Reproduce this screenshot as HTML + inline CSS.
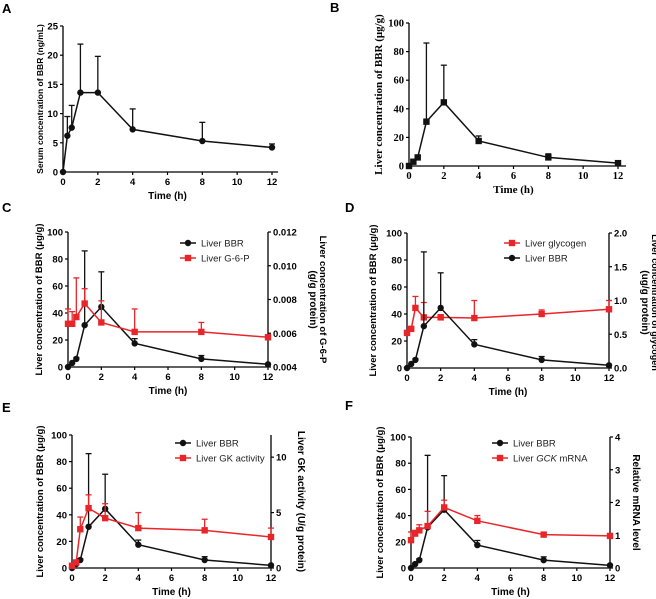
<!DOCTYPE html>
<html><head><meta charset="utf-8"><style>
body{margin:0;background:#fff;width:656px;height:599px;overflow:hidden}
svg{display:block;font-family:"Liberation Sans",Arial,sans-serif}
</style></head><body>
<svg id="fig" width="656" height="599" viewBox="0 0 656 599"></svg>
<script>
const times=[0,0.25,0.5,1,2,4,8,12];
const xTicks=[0,2,4,6,8,10,12];
const serumBBR=[0,6.2,7.6,13.6,13.6,7.3,5.3,4.2];
const serumErr=[0,3.3,3.8,8.3,6.2,3.5,3.2,0.6];
const liverBBR=[0,3,6,31,44.5,17.5,6,2];
const liverErr=[0,0,1,55,26,3.5,2.5,0.5];
const g6p=[0.00656,0.00656,0.00696,0.00776,0.00664,0.00608,0.00608,0.00576];
const g6pErr=[0.00088,0.00072,0.00232,0.00088,0.00128,0.00136,0.00056,0.00016];
const glycogen=[0.52,0.58,0.89,0.75,0.75,0.74,0.80,0.87];
const glycogenErr=[0,0.02,0.17,0.22,0.04,0.26,0.06,0.13];
const gk=[0.2,0.5,3.5,5.4,4.5,3.6,3.4,2.8];
const gkErr=[0,0.1,1.1,1.2,1.3,1.4,1.0,0.8];
const gck=[0.85,1.05,1.15,1.28,1.85,1.44,1.02,0.98];
const gckErr=[0.25,0.1,0.17,0.45,0.22,0.16,0.03,0.02];
const ticksA=[0,5,10,15,20,25];
const ticksLeft=[0,20,40,60,80,100];
const ticksC=[0.004,0.006,0.008,0.010,0.012];
const ticksD=[0,0.5,1.0,1.5,2.0];
const ticksE=[0,5,10];
const ticksF=[0,1,2,3,4];
const NS='http://www.w3.org/2000/svg';
const svg=document.getElementById('fig');
function el(tag,attrs,parent,text){const e=document.createElementNS(NS,tag);for(const k in attrs)e.setAttribute(k,attrs[k]);if(text!==undefined)e.textContent=text;(parent||svg).appendChild(e);return e;}
function panel(p){
  const g=el('g',{});
  
  
  const sx=t=>p.x0+(p.x1-p.x0)*t/12;
  const sy=v=>p.y0+(p.y1-p.y0)*v/p.ymax;
  const lt=el('text',{x:p.lx,y:p.ly,'font-size':13,'font-weight':'bold'},g,p.letter);
  
  
  const ff=p.serif?'"Liberation Serif",serif':'"Liberation Sans",sans-serif';
  const xa=el('g',{},g);
  
  
  el('line',{x1:p.x0,y1:p.y0,x2:p.x1+(p.extend||0),y2:p.y0,stroke:'#000','stroke-width':1.3},xa);
  xTicks.forEach(t=>{el('line',{x1:sx(t),y1:p.y0,x2:sx(t),y2:p.y0+3,stroke:'#000','stroke-width':1.2},xa);
    el('text',{x:sx(t),y:p.y0+13,'font-size':p.fs||9.5,'font-weight':'bold','text-anchor':'middle','font-family':ff},xa,t);});
  const xt=el('text',{x:(p.x0+p.x1)/2,y:p.y0+27,'font-size':p.xfs||10,'font-weight':'bold','text-anchor':'middle','font-family':ff},g,'Time (h)');
  
  
  const ya=el('g',{},g);
  
  
  el('line',{x1:p.x0,y1:p.y0,x2:p.x0,y2:p.y1,stroke:'#000','stroke-width':1.3},ya);
  p.ticks.forEach(v=>{el('line',{x1:p.x0-3,y1:sy(v),x2:p.x0,y2:sy(v),stroke:'#000','stroke-width':1.2},ya);
    el('text',{x:p.x0-5,y:sy(v)+3.5,'font-size':p.fs||9.5,'font-weight':'bold','text-anchor':'end','font-family':ff},ya,v);});
  const tx=p.x0-p.tdx, ty=(p.y0+p.y1)/2;
  const yt=el('text',{x:tx,y:ty,'font-size':p.tfs||9.5,'font-weight':'bold','text-anchor':'middle','font-family':ff,transform:`rotate(-90 ${tx} ${ty})`},g,p.ytitle);
  
  
  function series(vals,errs,sy2,color,shape,name){
    const s=el('g',{},g);
    
    
    vals.forEach((v,i)=>{if(errs[i]>0){const x=sx(times[i]);el('line',{x1:x,y1:sy2(v),x2:x,y2:sy2(v+errs[i]),stroke:color,'stroke-width':1.3},s);el('line',{x1:x-3,y1:sy2(v+errs[i]),x2:x+3,y2:sy2(v+errs[i]),stroke:color,'stroke-width':1.3},s);}});
    el('polyline',{points:vals.map((v,i)=>sx(times[i])+','+sy2(v)).join(' '),fill:'none',stroke:color,'stroke-width':1.5},s);
    vals.forEach((v,i)=>{const x=sx(times[i]),y=sy2(v);
      if(shape==='c')el('circle',{cx:x,cy:y,r:3.2,fill:color},s);else el('rect',{x:x-3.2,y:y-3.2,width:6.4,height:6.4,fill:color},s);});
  }
  if(p.right){
    const r=p.right;
    const sy2=v=>p.y0+(p.y1-p.y0)*(v-r.min)/(r.max-r.min);
    const ra=el('g',{},g);
    
    
    el('line',{x1:p.x1,y1:p.y0,x2:p.x1,y2:p.y1,stroke:'#000','stroke-width':1.3},ra);
    r.ticks.forEach(v=>{el('line',{x1:p.x1,y1:sy2(v),x2:p.x1+3,y2:sy2(v),stroke:'#000','stroke-width':1.2},ra);
      el('text',{x:p.x1+5,y:sy2(v)+3.5,'font-size':9.5,'font-weight':'bold','font-family':ff},ra,r.labels?r.labels(v):v);});
    r.titles.forEach((t,k)=>{const x=p.x1+r.tx[k];const yy=ty+(r.ty||0);
      const rt=el('text',{x:x,y:yy,'font-size':(r.tfs&&r.tfs[k])||10,'font-weight':'bold','text-anchor':'middle',transform:`rotate(90 ${x} ${yy})`},g,t);
      
      });
    if(r.first){series(r.vals,r.errs,sy2,'#e8262a','s','series-'+r.key);series(p.vals,p.errs,sy,'#111','c','series-liver-bbr');}
    else{series(p.vals,p.errs,sy,'#111','c','series-liver-bbr');series(r.vals,r.errs,sy2,'#e8262a','s','series-'+r.key);}
    r.legend.forEach((L,k)=>{const lg=el('g',{},g);
      
      
      const y=p.legY+k*15;
      el('line',{x1:p.legX,y1:y,x2:p.legX+16,y2:y,stroke:L.c,'stroke-width':1.5},lg);
      if(L.s==='c')el('circle',{cx:p.legX+8,cy:y,r:3.2,fill:L.c},lg);else el('rect',{x:p.legX+4.8,y:y-3.2,width:6.4,height:6.4,fill:L.c},lg);
      const t=el('text',{x:p.legX+21,y:y+3.5,'font-size':9.5,fill:'#222'},lg);
      t.innerHTML=L.t;});
  } else series(p.vals,p.errs,sy,'#111',p.shape||'c',p.sname);
}
panel({letter:'A',lx:2,ly:13,x0:63,x1:272,y0:172,y1:26,ymax:25,ticks:ticksA,vals:serumBBR,errs:serumErr,tdx:20,tfs:8.5,ytitle:'Serum concentration of BBR (ng/mL)',sname:'series-serum-bbr',extend:6});
panel({letter:'B',lx:330,ly:12,x0:409,x1:618,y0:166,y1:23,ymax:100,ticks:ticksLeft,vals:liverBBR,errs:liverErr,tdx:27,tfs:11,ytitle:'Liver concentration of BBR (μg/g)',sname:'series-liver-bbr',shape:'s',serif:true,extend:8,fs:10.5,xfs:11});
panel({letter:'C',lx:2,ly:212,x0:68,x1:268,y0:367,y1:232,ymax:100,ticks:ticksLeft,vals:liverBBR,errs:liverErr,tdx:26,ytitle:'Liver concentration of BBR (μg/g)',legX:180,legY:243,
  right:{min:0.004,max:0.012,ticks:ticksC,labels:v=>v.toFixed(3),vals:g6p,errs:g6pErr,key:'g6p',titles:['Liver concentration of G-6-P','(g/g protein)'],tx:[52,42],tfs:[9.5,10],
  legend:[{c:'#111',s:'c',t:'Liver BBR'},{c:'#e8262a',s:'s',t:'Liver G-6-P'}]}});
panel({letter:'D',lx:345,ly:212,x0:407,x1:609,y0:368,y1:233,ymax:100,ticks:ticksLeft,vals:liverBBR,errs:liverErr,tdx:31,ytitle:'Liver concentration of BBR (μg/g)',legX:504,legY:243,
  right:{min:0,max:2,ticks:ticksD,labels:v=>v.toFixed(1),vals:glycogen,errs:glycogenErr,key:'glycogen',first:true,titles:['Liver concentration of glycogen','(ug/g protein)'],tx:[43,33],tfs:[9,10],ty:2,
  legend:[{c:'#e8262a',s:'s',t:'Liver glycogen'},{c:'#111',s:'c',t:'Liver BBR'}]}});
panel({letter:'E',lx:2,ly:412,x0:72,x1:271,y0:568,y1:435,ymax:100,ticks:ticksLeft,vals:liverBBR,errs:liverErr,tdx:29,ytitle:'Liver concentration of BBR (μg/g)',legX:175,legY:443,
  right:{min:0,max:12,ticks:ticksE,vals:gk,errs:gkErr,key:'gk-activity',titles:['Liver GK activity (U/g protein)'],tx:[27],
  legend:[{c:'#111',s:'c',t:'Liver BBR'},{c:'#e8262a',s:'s',t:'Liver GK activity'}]}});
panel({letter:'F',lx:345,ly:410,x0:411,x1:610,y0:568,y1:437,ymax:100,ticks:ticksLeft,vals:liverBBR,errs:liverErr,tdx:28,ytitle:'Liver concentration of BBR (μg/g)',legX:492,legY:443,
  right:{min:0,max:4,ticks:ticksF,vals:gck,errs:gckErr,key:'gck-mrna',titles:['Relative mRNA level'],tx:[23],
  legend:[{c:'#111',s:'c',t:'Liver BBR'},{c:'#e8262a',s:'s',t:'Liver <tspan font-style="italic">GCK</tspan> mRNA'}]}});
</script>
</body></html>
